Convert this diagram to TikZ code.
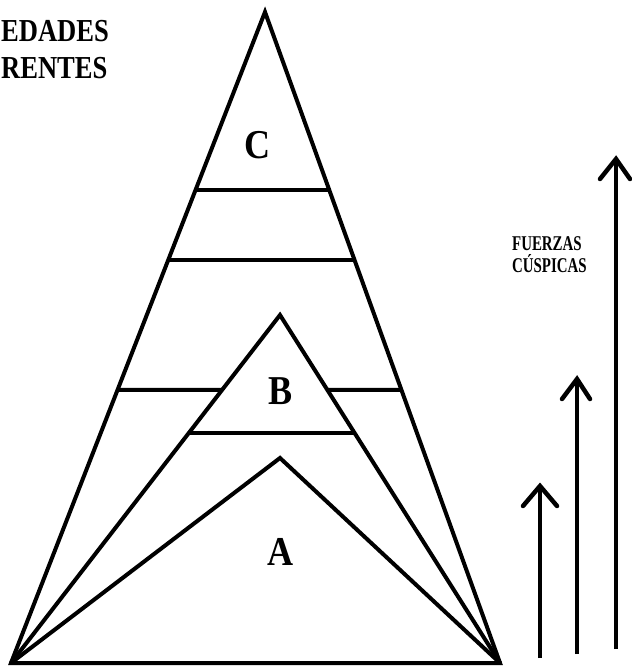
\documentclass[tikz,border=0pt]{standalone}
\usepackage{fontspec}
\setmainfont{Liberation Serif}
\usetikzlibrary{calc}
\begin{document}
\begin{tikzpicture}[x=1pt,y=-1pt,
  edge/.style={line width=4pt,line join=miter},
  force/.style={line width=4pt},
  head/.style={line width=4.5pt,line cap=round,line join=miter},
  lbl/.style={font=\bfseries\fontsize{41}{41}\selectfont,inner sep=0pt,xscale=0.88},
  side/.style={font=\bfseries\fontsize{32}{36}\selectfont,inner sep=0pt,anchor=base west,xscale=0.83},
  small/.style={font=\bfseries\fontsize{21}{22}\selectfont,inner sep=0pt,anchor=base west,align=left,xscale=0.71}]
\useasboundingbox (0,0) rectangle (631,671);
% vertices
\coordinate (top) at (265,12);
\coordinate (bl) at (11,663);
\coordinate (br) at (500,663);
\coordinate (bapex) at (280,315);
\coordinate (aapex) at (280,458);
% big triangle
\draw[edge] (bl) -- (top) -- (br) -- cycle;
% triangle B
\draw[edge] (bl) -- (bapex) -- (br);
% triangle A
\draw[edge] (bl) -- (aapex) -- (br);
% horizontal levels
\draw[edge] ($(top)!0.2734!(bl)$) -- ($(top)!0.2734!(br)$);
\draw[edge] ($(top)!0.381!(bl)$) -- ($(top)!0.381!(br)$);
\draw[edge] ($(top)!0.5806!(bl)$) -- ($(bapex)!0.2155!(bl)$);
\draw[edge] ($(bapex)!0.2155!(br)$) -- ($(top)!0.5806!(br)$);
\draw[edge] ($(bapex)!0.339!(bl)$) -- ($(bapex)!0.339!(br)$);
% labels
\node[lbl] (c) at (258,145) {C};
\node[lbl] (b) at (281,391) {B};
\node[lbl] (a) at (281,552) {A};
\node[side] (t1) at (1,42) {EDADES};
\node[side] (t2) at (1,79) {RENTES};
\node[small] (f1) at (512,250) {FUERZAS};
\node[small] (f2) at (512,272) {CÚSPICAS};
% force arrows
\coordinate (f1b) at (540,658);
\coordinate (f1t) at (540,486);
\coordinate (f2b) at (577,654);
\coordinate (f2t) at (577,379);
\coordinate (f3b) at (616,649);
\coordinate (f3t) at (616,159);
\draw[force] (f1b) -- (f1t);
\draw[force] (f2b) -- (f2t);
\draw[force] (f3b) -- (f3t);
\draw[head] ($(f1t)+(-17,20)$) -- (f1t) -- ($(f1t)+(17,20)$);
\draw[head] ($(f2t)+(-15,20)$) -- (f2t) -- ($(f2t)+(13,20)$);
\draw[head] ($(f3t)+(-16,20)$) -- (f3t) -- ($(f3t)+(14,20)$);
\end{tikzpicture}
\end{document}
